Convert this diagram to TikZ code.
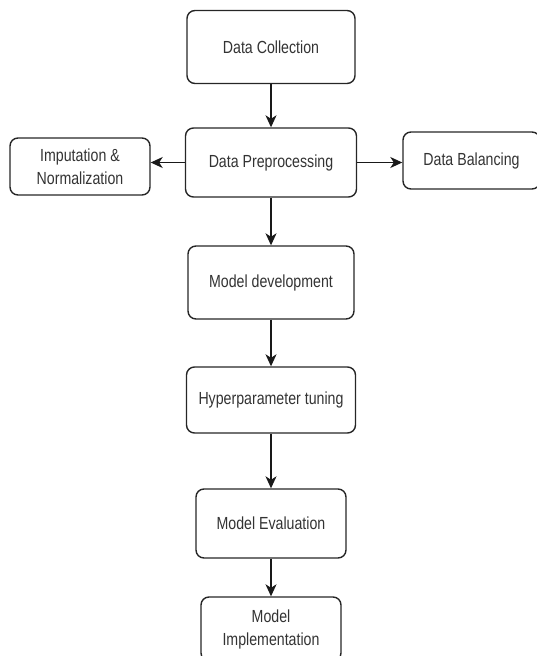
\documentclass[tikz,border=0pt]{standalone}
\usepackage{fontspec}
\setmainfont[FakeStretch=0.81]{Liberation Sans}
\usetikzlibrary{arrows.meta,positioning}
\tikzset{%
	process/.style = {draw=black!85, rectangle, rounded corners=8pt, line width=1.4pt, text=black!80, text centered, align=center, inner sep=0pt, font=\fontsize{17.5}{23}\selectfont},
	arrow/.style   = {line width=1.2pt, draw=black!90, -{Stealth[length=12pt,width=11pt,inset=3.5pt]}},
}
\begin{document}
\begin{tikzpicture}[x=1pt,y=-1pt]
	\clip (0,0) rectangle (537,656);
	\node [process, minimum width=168pt, minimum height=73pt] (collect) at (271,47) {Data Collection};
	\node [process, minimum width=171pt, minimum height=69pt] (prep) at (271,162.5) {Data Preprocessing};
	\node [process, minimum width=140pt, minimum height=57pt] (imput) at (80,166.5) {Imputation \&\\Normalization};
	\node [process, minimum width=137pt, minimum height=57pt] (balance) at (471.5,160.5) {Data Balancing};
	\node [process, minimum width=166pt, minimum height=73pt] (develop) at (271,282.5) {Model development};
	\node [process, minimum width=169pt, minimum height=66pt] (tuning) at (271,400) {Hyperparameter tuning};
	\node [process, minimum width=150pt, minimum height=69pt] (evaluate) at (271,523.5) {Model Evaluation};
	\node [process, minimum width=140pt, minimum height=64pt] (deploy) at (271,629) {Model\\Implementation};
	
	\draw [arrow] (collect) -- (prep);
	\draw [arrow] (prep.west) -- (prep.west -| imput.east);
	\draw [arrow] (prep.east) -- (prep.east -| balance.west);
	\draw [arrow] (prep) -- (develop);
	\draw [arrow] (develop) -- (tuning);
	\draw [arrow] (tuning) -- (evaluate);
	\draw [arrow] (evaluate) -- (deploy);
\end{tikzpicture}
\end{document}
